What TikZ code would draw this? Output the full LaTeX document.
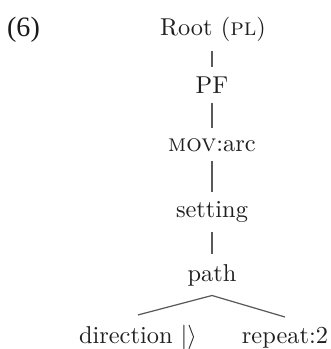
\documentclass[tikz,border=0pt]{standalone}
\usepackage{fontspec}
\newfontfamily\exfont{Liberation Serif}
\begin{document}
\begin{tikzpicture}[x=0.41pt,y=-0.41pt,
  lab/.style={anchor=base,inner sep=3.8pt,text=black!88},
  branch/.style={draw=black!65,line width=0.5pt}]
\useasboundingbox (0,0) rectangle (331,349);
% example number
\node[anchor=base,inner sep=0pt,text=black!90,font=\exfont\fontsize{11.5}{14}\selectfont] (ex) at (23.5,36) {(6)};
% tree nodes
\node[lab] (root) at (213,35) {Root (\textsc{pl})};
\node[lab] (pf) at (212,93) {PF};
\node[lab] (mov) at (212,151) {\textsc{mov}:arc};
\node[lab] (set) at (212,217.5) {setting};
\node[lab] (path) at (212,281) {path};
\node[lab] (dir) at (138,343) {direction $|\rangle$};
\node[lab] (rep) at (285,343) {repeat:2};
% branches
\draw[branch] (root.south -| pf.north) -- (pf.north);
\draw[branch] (pf.south) -- (mov.north);
\draw[branch] (mov.south) -- (set.north);
\draw[branch] (set.south) -- (path.north);
\draw[branch] (path.south) -- (dir.north);
\draw[branch] (path.south) -- (rep.north);
\end{tikzpicture}
\end{document}
